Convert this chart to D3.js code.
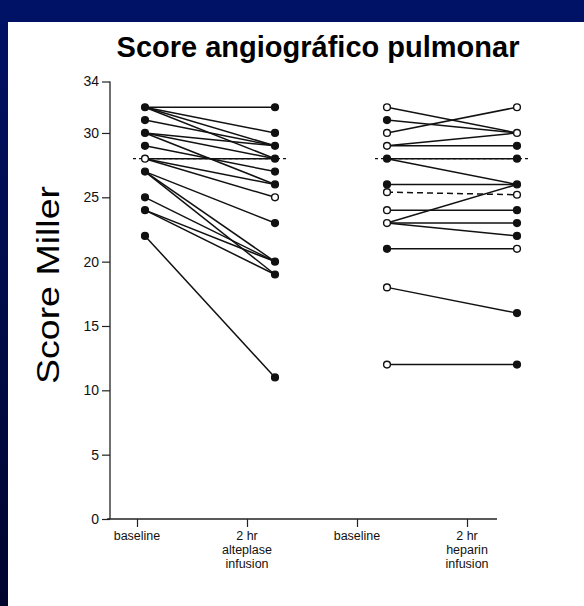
<!DOCTYPE html>
<html>
<head>
<meta charset="utf-8">
<script src="https://cdn.jsdelivr.net/npm/d3@7"></script>
<style>
  body { margin: 0; }
  svg { display: block; }
</style>
</head>
<body>
<div id="chart"></div>
<script>
// columns and their labels
var columns = ["altBase", "alt2h", "hepBase", "hep2h"];
var columnLabels = [["baseline"], ["2 hr", "alteplase", "infusion"], ["baseline"], ["2 hr", "heparin", "infusion"]];
var yTicks = [0, 5, 10, 15, 20, 25, 30, 34];

// paired scores (baseline -> 2 hr)
var alteplaseBaseline = [32, 32, 32, 32, 31, 30, 30, 30, 29, 28, 28, 28, 27, 27, 27, 25, 24, 24, 22];
var alteplase2h       = [32, 30, 29, 28, 29, 29, 28, 26, 27, 28, 26, 25, 23, 20, 19, 20, 19, 20, 11];
var heparinBaseline   = [32, 31, 30, 29, 29, 28, 28, 26, 25.4, 24, 23, 23, 23, 21, 18, 12];
var heparin2h         = [30, 30, 32, 30, 29, 28, 26, 26, 25.2, 24, 26, 23, 22, 21, 16, 12];

// which points are drawn as open circles
var alteplaseOpenBase = [28];
var alteplaseOpen2h = [25];
var heparinOpenBase = [32, 30, 29, 25.4, 24, 23, 18, 12];
var heparinOpen2h = [32, 30, 25.2, 21];
var heparinDashed = [8];

// group reference (mean) line
var groupMean = [28, 28];

var W = 584, H = 606;
var svg = d3.select("#chart").append("svg").attr("width", W).attr("height", H);

var defs = svg.append("defs");
var grad = defs.append("linearGradient").attr("id", "bg").attr("x1", 0).attr("y1", 0).attr("x2", 0).attr("y2", 1);
grad.append("stop").attr("offset", "0").attr("stop-color", "#001266");
grad.append("stop").attr("offset", "1").attr("stop-color", "#00052e");

svg.append("rect").attr("width", W).attr("height", H).attr("fill", "url(#bg)");
svg.append("rect").attr("x", 8).attr("y", 22).attr("width", W - 8).attr("height", H - 22).attr("fill", "#fff");

var font = "Liberation Sans, Arial, sans-serif";

// title
svg.append("text")
  .attr("x", 318).attr("y", 57)
  .attr("text-anchor", "middle")
  .style("font-family", font)
  .style("font-weight", "bold")
  .style("font-size", "29px")
  .text("Score angiográfico pulmonar");

// y label
svg.append("text")
  .attr("transform", "translate(59,285) rotate(-90)")
  .attr("text-anchor", "middle")
  .attr("textLength", 198).attr("lengthAdjust", "spacingAndGlyphs")
  .style("font-family", font)
  .style("font-size", "31px")
  .text("Score Miller");

var y = d3.scaleLinear().domain([0, 34]).range([519, 81.5]);
// each group's two columns; data sit slightly right of the printed ticks in the scan
var xGroup = d3.scalePoint().domain(["alteplase", "heparin"]).range([145, 387]);
var colOffset = 130;
var xAxisScale = d3.scalePoint().domain(columns).range([137, 467]);
var axisX = 110;

// y axis
var gy = svg.append("g").attr("transform", "translate(" + axisX + ",0)")
  .call(d3.axisLeft(y).tickValues(yTicks).tickSize(8).tickPadding(3));
gy.select(".domain").attr("d", "M0," + y(34) + "V" + y(0)).attr("stroke", "#222").attr("stroke-width", 1.3);
gy.selectAll(".tick line").attr("stroke", "#222").attr("stroke-width", 1.2);
gy.selectAll(".tick text").style("font-family", font).style("font-size", "14px").attr("fill", "#111");

// x axis
var gx = svg.append("g").attr("transform", "translate(0," + y(0) + ")")
  .call(d3.axisBottom(xAxisScale).tickSize(8).tickFormat(""));
gx.select(".domain").attr("d", "M" + (axisX - 3) + ",0H497").attr("stroke", "#222").attr("stroke-width", 1.3);
gx.selectAll(".tick line").attr("stroke", "#222").attr("stroke-width", 1.2);

var lab = svg.append("g");
columns.forEach(function (c, i) {
  columnLabels[i].forEach(function (s, j) {
    lab.append("text")
      .attr("x", xAxisScale(c)).attr("y", y(0) + 21 + j * 14)
      .attr("text-anchor", "middle")
      .style("font-family", font).style("font-size", "12.5px").attr("fill", "#111")
      .text(s);
  });
});

function drawGroup(group, base, post, openBase, open2h, dashed, mean) {
  var g = svg.append("g");
  var x0 = xGroup(group), x1 = xGroup(group) + colOffset;
  var pairs = base.map(function (b, i) { return { b: b, p: post[i], i: i }; });

  // mean reference line
  g.append("line")
    .attr("x1", x0 - 12).attr("x2", x1 + 12)
    .attr("y1", y(mean)).attr("y2", y(mean))
    .attr("stroke", "#111").attr("stroke-width", 1.3).attr("stroke-dasharray", "3,3");

  g.selectAll("line.pair").data(pairs).enter().append("line")
    .attr("class", "pair")
    .attr("x1", x0).attr("x2", x1)
    .attr("y1", function (d) { return y(d.b); })
    .attr("y2", function (d) { return y(d.p); })
    .attr("stroke", "#111").attr("stroke-width", 1.5)
    .attr("stroke-dasharray", function (d) { return dashed.indexOf(d.i) >= 0 ? "6,4" : null; });

  function marks(vals, cx, open) {
    var u = Array.from(new Set(vals));
    g.selectAll(null).data(u).enter().append("circle")
      .attr("cx", cx).attr("cy", function (d) { return y(d); })
      .attr("r", 3.4)
      .attr("fill", function (d) { return open.indexOf(d) >= 0 ? "#fff" : "#111"; })
      .attr("stroke", "#111").attr("stroke-width", 1.4);
  }
  marks(base, x0, openBase);
  marks(post, x1, open2h);
}

drawGroup("alteplase", alteplaseBaseline, alteplase2h, alteplaseOpenBase, alteplaseOpen2h, [], groupMean[0]);
drawGroup("heparin", heparinBaseline, heparin2h, heparinOpenBase, heparinOpen2h, heparinDashed, groupMean[1]);
</script>
</body>
</html>
